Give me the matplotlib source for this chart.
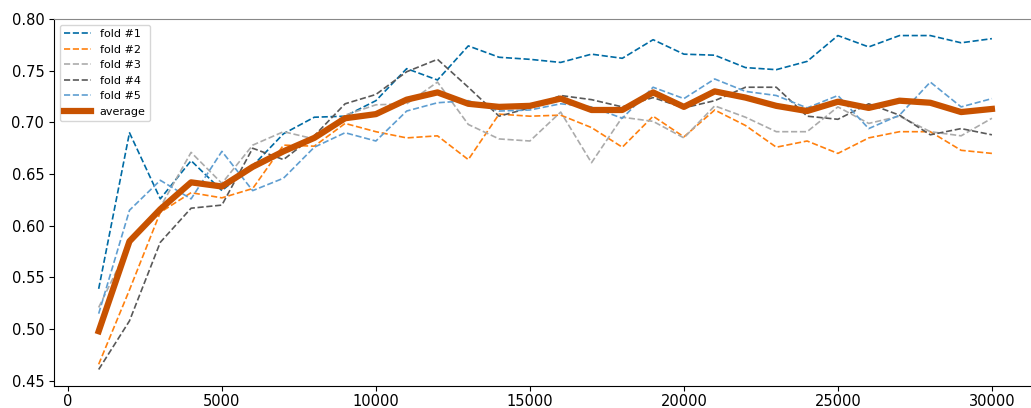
import numpy as np
from matplotlib import pyplot as plt

# training set sizes
SIZES = list(range(1000, 31000, 1000))

FOLD_1 = [0.539, 0.690, 0.626, 0.663, 0.634, 0.658, 0.689, 0.705, 0.706, 0.721,
          0.752, 0.741, 0.774, 0.763, 0.761, 0.758, 0.766, 0.762, 0.780, 0.766,
          0.765, 0.753, 0.751, 0.759, 0.784, 0.773, 0.784, 0.784, 0.777, 0.781]
FOLD_2 = [0.466, 0.538, 0.613, 0.632, 0.627, 0.636, 0.678, 0.677, 0.699, 0.691,
          0.685, 0.687, 0.664, 0.708, 0.706, 0.707, 0.695, 0.676, 0.706, 0.686,
          0.712, 0.697, 0.676, 0.682, 0.670, 0.685, 0.691, 0.691, 0.673, 0.670]
FOLD_3 = [0.521, 0.582, 0.618, 0.671, 0.641, 0.678, 0.691, 0.684, 0.707, 0.717,
          0.718, 0.739, 0.698, 0.684, 0.682, 0.710, 0.661, 0.705, 0.701, 0.685,
          0.716, 0.705, 0.691, 0.691, 0.715, 0.699, 0.706, 0.691, 0.687, 0.704]
FOLD_4 = [0.461, 0.508, 0.584, 0.617, 0.620, 0.675, 0.664, 0.687, 0.718, 0.727,
          0.749, 0.761, 0.734, 0.706, 0.714, 0.726, 0.722, 0.715, 0.724, 0.714,
          0.721, 0.734, 0.734, 0.706, 0.703, 0.718, 0.707, 0.688, 0.694, 0.688]
FOLD_5 = [0.515, 0.615, 0.644, 0.626, 0.672, 0.634, 0.646, 0.676, 0.690, 0.682,
          0.711, 0.719, 0.721, 0.711, 0.712, 0.718, 0.715, 0.704, 0.734, 0.723,
          0.742, 0.730, 0.726, 0.714, 0.726, 0.694, 0.707, 0.739, 0.715, 0.723]
AVERAGE = [0.498, 0.585, 0.616, 0.642, 0.638, 0.657, 0.672, 0.685, 0.704, 0.708,
           0.722, 0.729, 0.718, 0.715, 0.716, 0.723, 0.712, 0.712, 0.729, 0.715,
           0.730, 0.724, 0.716, 0.711, 0.720, 0.714, 0.721, 0.719, 0.710, 0.713]

FOLDS = [FOLD_1, FOLD_2, FOLD_3, FOLD_4, FOLD_5]
LABELS = ["fold #1", "fold #2", "fold #3", "fold #4", "fold #5"]
# tableau colorblind palette
COLORS = ["#006BA4", "#FF800E", "#ABABAB", "#595959", "#5F9ED1"]
AVG_COLOR = "#C85200"

fig = plt.figure(figsize=(10.31, 4.08), dpi=100)
ax = fig.add_axes([0.0524, 0.0539, 0.953, 0.8995])

for fold, label, color in zip(FOLDS, LABELS, COLORS):
    ax.plot(SIZES, fold, linestyle="--", linewidth=1.2, color=color, label=label)
ax.plot(SIZES, AVERAGE, linewidth=4.5, color=AVG_COLOR, label="average")

ax.set_ylim(0.445, 0.80)
ax.set_xlim(-450, 31450)
ax.set_yticks(np.arange(0.45, 0.801, 0.05))
ax.set_xticks(range(0, 30001, 5000))
ax.tick_params(labelsize=10.5)
ax.tick_params(axis="x", pad=2)
ax.spines["top"].set_color("#888888")
ax.spines["right"].set_visible(False)

ax.legend(loc="upper left", fontsize=8, handlelength=2.4)

fig.savefig("out.png", dpi=100)
